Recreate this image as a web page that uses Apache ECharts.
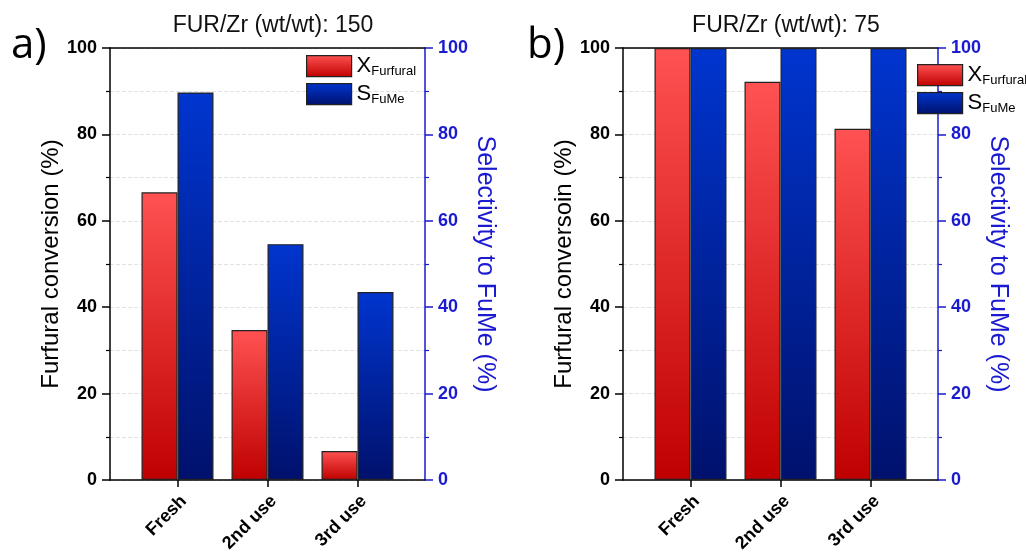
<!DOCTYPE html>
<html>
<head>
<meta charset="utf-8">
<script src="https://cdn.jsdelivr.net/npm/echarts@6/dist/echarts.min.js"></script>
<style>
html,body{margin:0;padding:0;background:#fff;}
#chart{width:1026px;height:552px;}
</style>
</head>
<body>
<div id="chart"></div>
<script>
// ---- data ----
const categories = ['Fresh', '2nd use', '3rd use'];
const conversionA = [66.6, 34.7, 6.7];     // X_Furfural, FUR/Zr 150
const selectivityA = [89.7, 54.6, 43.5];   // S_FuMe, FUR/Zr 150
const conversionB = [100, 92.2, 81.3];     // X_Furfural, FUR/Zr 75
const selectivityB = [100, 100, 100];      // S_FuMe, FUR/Zr 75
const titleA = 'FUR/Zr (wt/wt): 150';
const titleB = 'FUR/Zr (wt/wt): 75';
const leftNameA = 'Furfural conversion (%)';
const leftNameB = 'Furfural conversoin (%)';
const rightName = 'Selectivity to FuMe (%)';
const nameX = 'XFurfural';
const nameS = 'SFuMe';

// ---- styles ----
const FONT = 'Liberation Sans, Arial, sans-serif';
const BLUE_AX = '#1A1AD0';
const redGrad = {type:'linear', x:0, y:0, x2:0, y2:1, colorStops:[{offset:0, color:'#FF5252'}, {offset:1, color:'#BF0000'}]};
const blueGrad = {type:'linear', x:0, y:0, x2:0, y2:1, colorStops:[{offset:0, color:'#0035CF'}, {offset:1, color:'#00116C'}]};

const chart = echarts.init(document.getElementById('chart'), null, {renderer:'canvas'});

const catIdx = categories.map((c, i) => i);

function xAxes(grid) {
  return [{
    type:'value', gridIndex:grid, min:-0.75, max:2.75, position:'bottom',
    axisLine:{show:true, onZero:false, lineStyle:{color:'#000', width:1.5}},
    axisTick:{show:true, customValues:catIdx, length:7, lineStyle:{color:'#000', width:1.5}},
    axisLabel:{show:true, customValues:catIdx, formatter:v => categories[Math.round(v)] || '',
      rotate:45, verticalAlign:'top', fontWeight:'bold', fontSize:18, fontFamily:FONT, color:'#000', margin:12},
    splitLine:{show:false}
  }, {
    type:'value', gridIndex:grid, min:-0.75, max:2.75, position:'top',
    axisLine:{show:true, onZero:false, lineStyle:{color:'#000', width:1.5}},
    axisTick:{show:false}, axisLabel:{show:false}, splitLine:{show:false}
  }];
}

function yAxes(grid, leftName, leftGap, rightGap) {
  return [{
    type:'value', gridIndex:grid, min:0, max:100, interval:20, position:'left',
    axisLine:{show:true, onZero:false, lineStyle:{color:'#000', width:1.5}},
    axisTick:{show:true, length:8, lineStyle:{color:'#000', width:1.5}},
    minorTick:{show:true, splitNumber:2, length:4, lineStyle:{color:'#000', width:1.2}},
    splitLine:{show:true, lineStyle:{color:'#e2e2e2', type:'dashed', width:1}},
    minorSplitLine:{show:true, lineStyle:{color:'#e2e2e2', type:'dashed', width:1}},
    axisLabel:{fontWeight:'bold', fontSize:18, fontFamily:FONT, color:'#000', margin:13},
    name:leftName, nameLocation:'middle', nameRotate:90, nameGap:leftGap,
    nameTextStyle:{fontSize:24, fontFamily:FONT, color:'#000'}
  }, {
    type:'value', gridIndex:grid, min:0, max:100, interval:20, position:'right',
    axisLine:{show:true, onZero:false, lineStyle:{color:BLUE_AX, width:1.5}},
    axisTick:{show:true, length:8, lineStyle:{color:BLUE_AX, width:1.5}},
    minorTick:{show:true, splitNumber:2, length:4, lineStyle:{color:BLUE_AX, width:1.2}},
    splitLine:{show:false},
    axisLabel:{fontWeight:'bold', fontSize:18, fontFamily:FONT, color:BLUE_AX, margin:13},
    name:rightName, nameLocation:'middle', nameRotate:-90, nameGap:rightGap,
    nameTextStyle:{fontSize:25, fontFamily:FONT, color:BLUE_AX}
  }];
}

function barSeries(name, values, xi, yi, grad) {
  return {
    type:'bar', name:name, xAxisIndex:xi, yAxisIndex:yi,
    data: values.map((v, i) => [i, v]),
    barWidth:36, barGap:'0%',
    itemStyle:{color:grad, borderColor:'#222', borderWidth:1.2},
    emphasis:{disabled:true}
  };
}

const legendRich = {
  m:{fontSize:22, fontFamily:FONT, color:'#000'},
  s:{fontSize:13, fontFamily:FONT, color:'#000', padding:[11,0,0,0]}
};
function legend(left, top) {
  return {
    orient:'vertical', left:left, top:top, itemWidth:45, itemHeight:21, itemGap:5,
    icon:'rect', selectedMode:false, data:[nameX, nameS],
    formatter: n => n === nameX ? '{m|X}{s|Furfural}' : '{m|S}{s|FuMe}',
    textStyle:{rich:legendRich}, itemStyle:{borderColor:'#222', borderWidth:1.2}
  };
}

const option = {
  animation:false,
  backgroundColor:'#fff',
  title:[
    {text:titleA, left:268, top:9, textAlign:'center', textStyle:{fontSize:23, fontWeight:'normal', fontFamily:FONT, color:'#111'}},
    {text:titleB, left:781, top:9, textAlign:'center', textStyle:{fontSize:23, fontWeight:'normal', fontFamily:FONT, color:'#111'}},
    {text:'a)', left:6, top:20, textStyle:{fontSize:42, fontWeight:'normal', fontFamily:'Open Sans, sans-serif', color:'#000'}},
    {text:'b)', left:522, top:20, textStyle:{fontSize:42, fontWeight:'normal', fontFamily:'Open Sans, sans-serif', color:'#000'}}
  ],
  grid:[
    {left:110, right:601, top:48, bottom:72, containLabel:false, outerBoundsMode:'none'},
    {left:623, right:88, top:48, bottom:72, containLabel:false, outerBoundsMode:'none'}
  ],
  legend:[legend(301, 50), legend(912, 59)],
  xAxis:[...xAxes(0), ...xAxes(1)],
  yAxis:[...yAxes(0, leftNameA, 45, 44), ...yAxes(1, leftNameB, 43, 41)],
  series:[
    barSeries(nameX, conversionA, 0, 0, redGrad),
    barSeries(nameS, selectivityA, 0, 1, blueGrad),
    barSeries(nameX, conversionB, 2, 2, redGrad),
    barSeries(nameS, selectivityB, 2, 3, blueGrad)
  ]
};
chart.setOption(option);
</script>
</body>
</html>
